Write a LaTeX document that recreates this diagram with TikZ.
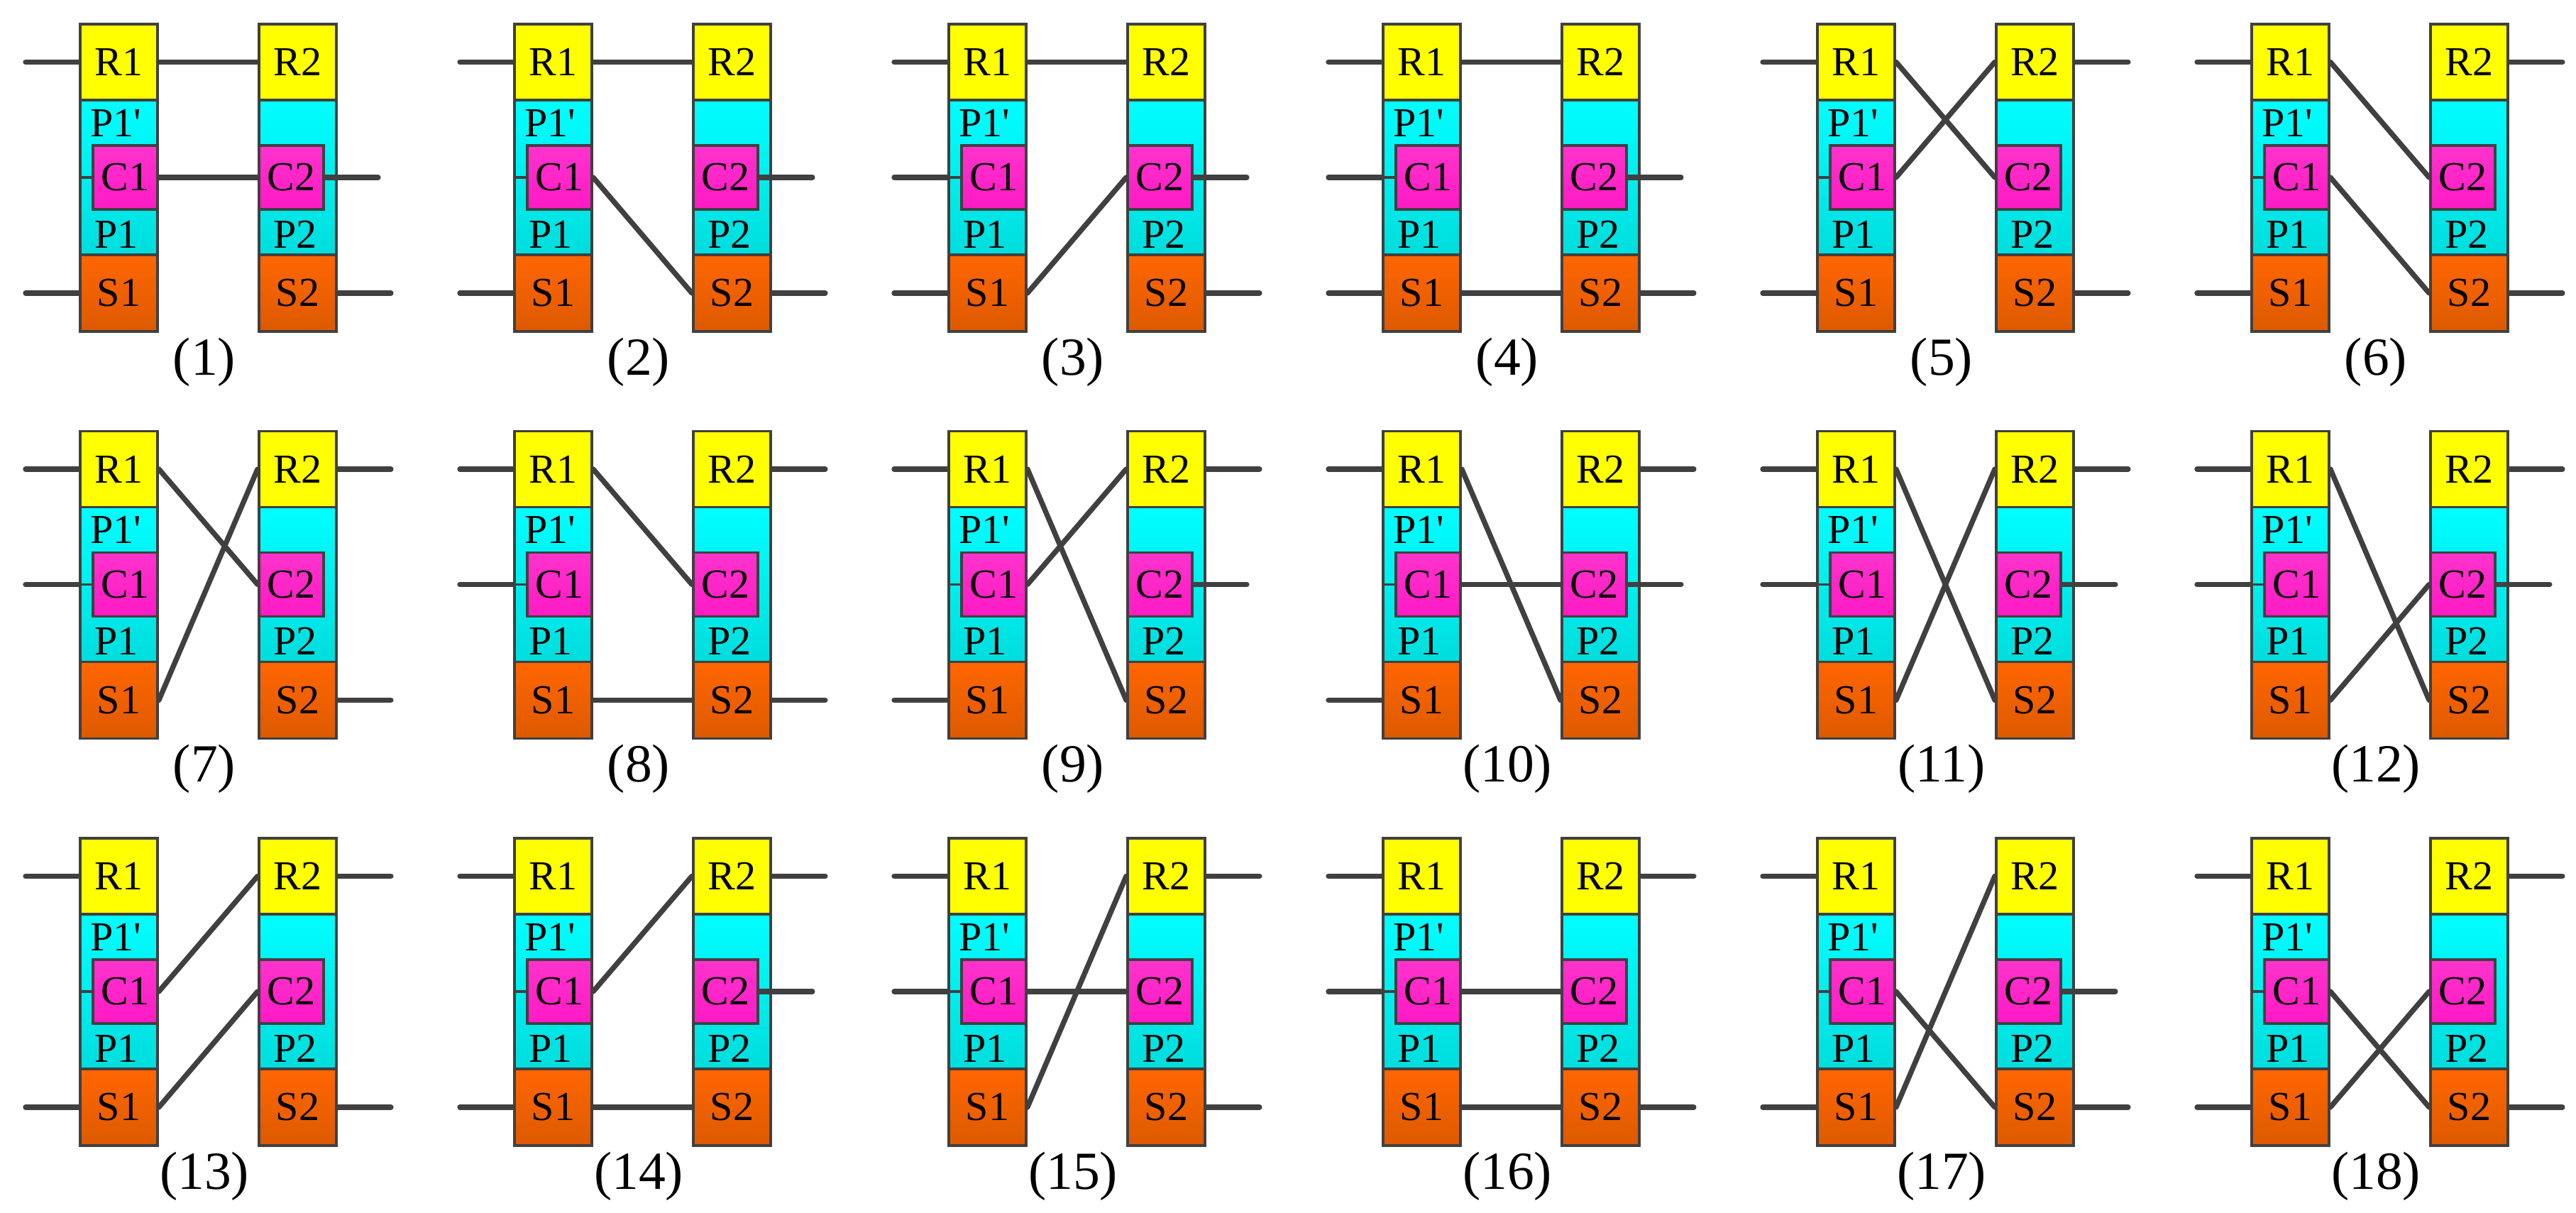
\documentclass[tikz,border=0pt]{standalone}
\usepackage{fontspec}
\setmainfont{Liberation Serif}
\usetikzlibrary{shadings}
\definecolor{bord}{HTML}{404040}
\definecolor{oratop}{HTML}{FF6600}
\definecolor{orabot}{HTML}{DD5A00}
\definecolor{magtop}{HTML}{FF33CC}
\definecolor{magbot}{HTML}{FF1AC4}
\definecolor{cyatop}{HTML}{00FFFF}
\definecolor{cyabot}{HTML}{00DDDD}
\tikzset{
  cbox/.style={draw=bord,line width=1.1pt,rectangle,inner sep=0pt,anchor=north west,minimum width=1.09cm,font=\fontsize{16.5}{18}\selectfont},
  yel/.style={top color=yellow,bottom color=yellow},
  cya/.style={top color=cyatop,bottom color=cyabot},
  mag/.style={top color=magtop,bottom color=magbot},
  ora/.style={top color=oratop,bottom color=orabot},
  conn/.style={draw=bord,line width=2.1pt,line cap=round},
  thin/.style={draw=bord,line width=1.1pt},
  txt/.style={inner sep=0pt,font=\fontsize{16.5}{18}\selectfont},
  lab/.style={inner sep=0pt,font=\fontsize{21.5}{24}\selectfont}
}
\newcommand\panel[6]{%
\begin{scope}[shift={({1.11+6.12*#1},{-(0.32+5.735*#2)})}]
  \node[cbox,cya,minimum height=2.18cm] (PA-#3) at (0,-1.07) {};
  \node[cbox,cya,minimum height=2.18cm] (PB-#3) at (2.52,-1.07) {};
  \node[cbox,yel,minimum height=1.07cm] (R1-#3) at (0,0) {R1};
  \node[cbox,yel,minimum height=1.07cm] (R2-#3) at (2.52,0) {R2};
  \node[cbox,ora,minimum height=1.08cm] (S1-#3) at (0,-3.25) {S1};
  \node[cbox,ora,minimum height=1.08cm] (S2-#3) at (2.52,-3.25) {S2};
  \node[cbox,mag,minimum width=0.91cm,minimum height=0.9cm] (C1-#3) at (0.18,-1.71) {C1};
  \node[cbox,mag,minimum width=0.91cm,minimum height=0.9cm] (C2-#3) at (2.52,-1.71) {C2};
  \node[txt] (Pq-#3) at (0.52,-1.41) {P1\textquotesingle};
  \node[txt] (Pa-#3) at (0.53,-2.98) {P1};
  \node[txt] (Pb-#3) at (3.05,-2.98) {P2};
  \draw[thin] (PA-#3.west |- C1-#3.west) -- (C1-#3.west);
  \foreach \a/\b in {#4} \draw[conn] (\a-#3.east) -- (\b-#3.west);
  \foreach \a in {#5} \draw[conn] (PA-#3.west |- \a1-#3.west) -- ++(-0.75,0);
  \foreach \a in {#6} \draw[conn] (\a2-#3.east) -- ++(0.75,0);
  \node[lab] (L-#3) at (1.77,-4.78) {(#3)};
\end{scope}}
\begin{document}
\begin{tikzpicture}
\useasboundingbox (0,0) rectangle (36.3,-17.09);
\panel{0}{0}{1}{R1/R2,C1/C2}{R,S}{C,S}
\panel{1}{0}{2}{R1/R2,C1/S2}{R,S}{C,S}
\panel{2}{0}{3}{R1/R2,S1/C2}{R,C,S}{C,S}
\panel{3}{0}{4}{R1/R2,S1/S2}{R,C,S}{C,S}
\panel{4}{0}{5}{R1/C2,C1/R2}{R,S}{R,S}
\panel{5}{0}{6}{R1/C2,C1/S2}{R,S}{R,S}
\panel{0}{1}{7}{R1/C2,S1/R2}{R,C}{R,S}
\panel{1}{1}{8}{R1/C2,S1/S2}{R,C}{R,S}
\panel{2}{1}{9}{R1/S2,C1/R2}{R,S}{R,C}
\panel{3}{1}{10}{R1/S2,C1/C2}{R,S}{R,C}
\panel{4}{1}{11}{R1/S2,S1/R2}{R,C}{R,C}
\panel{5}{1}{12}{R1/S2,S1/C2}{R,C}{R,C}
\panel{0}{2}{13}{C1/R2,S1/C2}{R,S}{R,S}
\panel{1}{2}{14}{C1/R2,S1/S2}{R,S}{R,C}
\panel{2}{2}{15}{S1/R2,C1/C2}{R,C}{R,S}
\panel{3}{2}{16}{C1/C2,S1/S2}{R,C}{R,S}
\panel{4}{2}{17}{C1/S2,S1/R2}{R,S}{C,S}
\panel{5}{2}{18}{C1/S2,S1/C2}{R,S}{R,S}
\end{tikzpicture}
\end{document}
